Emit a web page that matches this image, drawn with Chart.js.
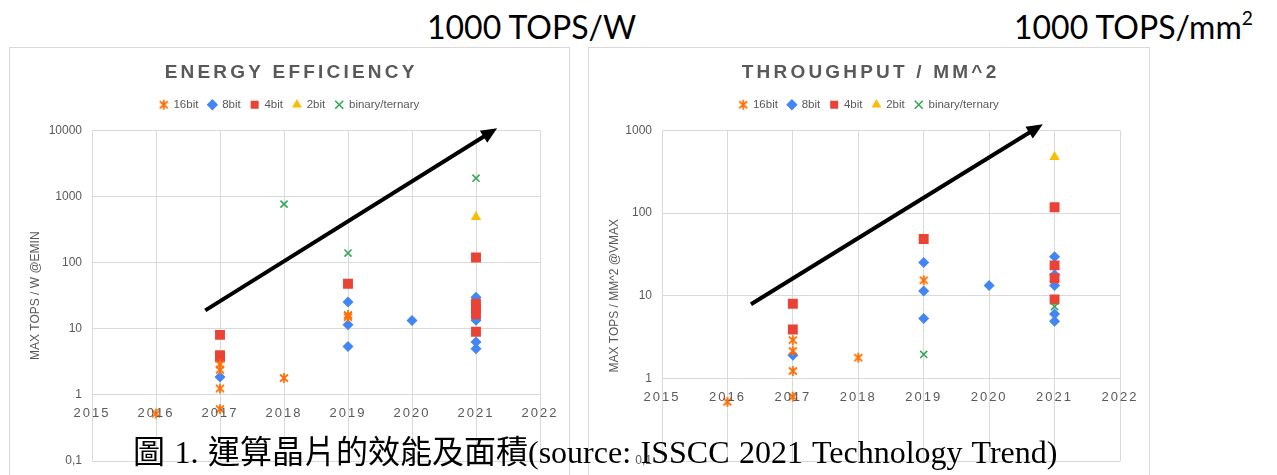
<!DOCTYPE html>
<html>
<head>
<meta charset="utf-8">
<script src="https://cdn.jsdelivr.net/npm/chart.js@4.4.1/dist/chart.umd.min.js"></script>
<style>
  html, body { margin: 0; padding: 0; background: #fff; }
  body { position: relative; width: 1277px; height: 475px; overflow: hidden; }
  .frame { position: absolute; top: 47px; height: 440px; border: 1px solid #d9d9d9; box-sizing: border-box; }
  #left-frame { left: 9px; width: 561px; }
  #right-frame { left: 588px; width: 562px; }
  .frame canvas { display: block; }
  .note { position: absolute; top: 7px; font-family: Lato, 'Open Sans', sans-serif; font-size: 32px; color: #000; white-space: nowrap; }
  .note sup { font-size: 60%; vertical-align: 0; position: relative; top: -0.75em; }
  #caption { position: absolute; left: 133px; top: 436px; line-height: 1; font-family: 'Liberation Serif', 'Noto Sans CJK TC', serif; font-size: 32px; word-spacing: 1.5px; color: #000; white-space: nowrap; }
</style>
</head>
<body>
<div class="note" style="left:427px">1000 TOPS/W</div>
<div class="note" style="left:1014px">1000 TOPS/mm<sup>2</sup></div>
<div class="frame" id="left-frame"><canvas id="eff-chart" width="559" height="438"></canvas></div>
<div class="frame" id="right-frame"><canvas id="tput-chart" width="560" height="438"></canvas></div>
<div id="caption">圖 1. 運算晶片的效能及面積(source: ISSCC 2021 Technology Trend)</div>

<script>
const yearMin = 2015;
const yearMax = 2022;
const seriesNames = ['16bit', '8bit', '4bit', '2bit', 'binary/ternary'];

// ENERGY EFFICIENCY, MAX TOPS / W @EMIN, points are [year, value]
const eff16bit = [[2016, 0.52], [2017, 0.61], [2017, 1.25], [2017, 2.4], [2017, 2.9], [2018, 1.8], [2019, 15], [2019, 16.2]];
const eff8bit = [[2017, 1.87], [2019, 5.4], [2019, 11.5], [2019, 25.4], [2020, 13.3], [2021, 5.0], [2021, 6.3], [2021, 13.5], [2021, 30]];
const eff4bit = [[2017, 3.7], [2017, 4.0], [2017, 8.1], [2019, 48], [2021, 9], [2021, 16.5], [2021, 20], [2021, 24], [2021, 120]];
const eff2bit = [[2021, 490]];
const effBinary = [[2018, 770], [2019, 140], [2021, 1900]];
const effYTicks = [0.1, 1, 10, 100, 1000, 10000];
const effArrow = [[2016.77, 19], [2021.33, 10800]];

// THROUGHPUT / MM^2, MAX TOPS / MM^2 @VMAX
const tput16bit = [[2016, 0.52], [2017, 0.6], [2017, 1.23], [2017, 2.15], [2017, 2.9], [2018, 1.78], [2019, 15.4]];
const tput8bit = [[2017, 1.9], [2019, 5.3], [2019, 11.4], [2019, 25.2], [2020, 13.3], [2021, 4.9], [2021, 6.0], [2021, 13.3], [2021, 18], [2021, 29.7]];
const tput4bit = [[2017, 3.9], [2017, 8.0], [2019, 48.6], [2021, 9], [2021, 16.3], [2021, 23.3], [2021, 118]];
const tput2bit = [[2021, 478]];
const tputBinary = [[2019, 1.95], [2021, 7.4]];
const tputYTicks = [0.1, 1, 10, 100, 1000];
const tputArrow = [[2016.36, 7.9], [2020.82, 1190]];

const seriesColors = ['#ff6d01', '#4285f4', '#ea4335', '#fbbc04', '#34a853'];
const gridColor = '#d9d9d9';
const textColor = '#595959';
const fontFamily = "'Liberation Sans', Arial, sans-serif";

// asterisk marker for 16bit
function starMarker(color) {
    const c = document.createElement('canvas');
    c.width = 12;
    c.height = 12;
    const g = c.getContext('2d');
    g.strokeStyle = color;
    g.lineWidth = 1.7;
    g.beginPath();
    g.moveTo(2, 2.5); g.lineTo(10, 9.5);
    g.moveTo(10, 2.5); g.lineTo(2, 9.5);
    g.moveTo(6, 1); g.lineTo(6, 11);
    g.stroke();
    return c;
}

const pointStyles = [starMarker(seriesColors[0]), 'rectRot', 'rect', 'triangle', 'crossRot'];
const pointRadii = [6, 5.5, 7, 6, 5];
const drawOrder = [0, 4, 3, 2, 1]; // lower = drawn on top

function makeDatasets(series) {
    return series.map((pts, i) => ({
        label: seriesNames[i],
        data: pts.map(p => ({ x: p[0], y: p[1] })),
        pointStyle: pointStyles[i],
        pointRadius: pointRadii[i],
        pointHoverRadius: pointRadii[i],
        backgroundColor: seriesColors[i],
        borderColor: seriesColors[i],
        borderWidth: i === 4 ? 1.6 : 0,
        order: drawOrder[i],
        showLine: false
    }));
}

// spaced title, trend arrow, spaced year labels
const decorPlugin = {
    id: 'decor',
    beforeInit(chart) {
        const fit = chart.legend.fit;
        chart.legend.fit = function () {
            fit.call(this);
            this.height += 10;
        };
    },
    afterLayout(chart) {
        // center the legend on the whole canvas, not on the padded box
        const legend = chart.legend;
        legend.left = 0;
        legend.right = chart.width;
        legend.width = chart.width;
    },
    beforeDraw(chart) {
        chart.ctx.letterSpacing = '0px';
    },
    afterDatasetsDraw(chart, args, opts) {
        const ctx = chart.ctx;
        const xs = chart.scales.x, ys = chart.scales.y;
        const a = opts.arrow;
        const x1 = xs.getPixelForValue(a[0][0]), y1 = ys.getPixelForValue(a[0][1]);
        const x2 = xs.getPixelForValue(a[1][0]), y2 = ys.getPixelForValue(a[1][1]);
        const ang = Math.atan2(y2 - y1, x2 - x1);
        const head = 16, half = 7;
        ctx.save();
        ctx.strokeStyle = '#000';
        ctx.fillStyle = '#000';
        ctx.lineWidth = 4;
        ctx.beginPath();
        ctx.moveTo(x1, y1);
        ctx.lineTo(x2 - Math.cos(ang) * head * 0.8, y2 - Math.sin(ang) * head * 0.8);
        ctx.stroke();
        ctx.beginPath();
        ctx.moveTo(x2, y2);
        ctx.lineTo(x2 - Math.cos(ang) * head - Math.sin(ang) * half, y2 - Math.sin(ang) * head + Math.cos(ang) * half);
        ctx.lineTo(x2 - Math.cos(ang) * head + Math.sin(ang) * half, y2 - Math.sin(ang) * head - Math.cos(ang) * half);
        ctx.closePath();
        ctx.fill();
        ctx.restore();
        ctx.letterSpacing = '2px'; // year labels are drawn after this (ticks.z = 1)
    },
    afterDraw(chart, args, opts) {
        const ctx = chart.ctx;
        ctx.save();
        ctx.letterSpacing = '3.2px';
        ctx.font = 'bold 19px ' + fontFamily;
        ctx.fillStyle = textColor;
        ctx.textAlign = 'center';
        ctx.textBaseline = 'middle';
        ctx.fillText(opts.title, chart.width / 2 + 1.6, 25);
        ctx.restore();
        ctx.letterSpacing = '0px';
    }
};

function makeChart(canvasId, series, yTicks, yTitle, title, arrow, yWidth) {
    const ctx = document.getElementById(canvasId).getContext('2d');
    return new Chart(ctx, {
        type: 'scatter',
        data: { datasets: makeDatasets(series) },
        options: {
            responsive: false,
            animation: false,
            layout: { padding: { top: 41, right: 29, bottom: 25, left: 0 } },
            plugins: {
                legend: {
                    position: 'top',
                    labels: {
                        usePointStyle: true,
                        boxWidth: 8,
                        boxHeight: 8,
                        padding: 10,
                        color: textColor,
                        font: { family: fontFamily, size: 11.5 },
                        sort: (a, b) => a.datasetIndex - b.datasetIndex
                    }
                },
                tooltip: { enabled: false },
                decor: { title: title, arrow: arrow }
            },
            scales: {
                x: {
                    type: 'linear',
                    position: { y: 1 },
                    min: yearMin,
                    max: yearMax,
                    ticks: {
                        stepSize: 1,
                        z: 1,
                        color: textColor,
                        padding: 11,
                        font: { family: fontFamily, size: 13 },
                        callback: v => String(v)
                    },
                    grid: { color: gridColor, drawTicks: false },
                    border: { display: false }
                },
                y: {
                    type: 'logarithmic',
                    min: yTicks[0],
                    max: yTicks[yTicks.length - 1],
                    afterBuildTicks: scale => {
                        scale.ticks = yTicks.map(v => ({ value: v }));
                    },
                    afterFit: scale => {
                        scale.width = yWidth;
                    },
                    ticks: {
                        color: textColor,
                        padding: 10,
                        font: { family: fontFamily, size: 12 },
                        callback: v => String(v).replace('.', ',')
                    },
                    grid: { color: gridColor, drawTicks: false },
                    border: { display: false },
                    title: {
                        display: true,
                        text: yTitle,
                        color: textColor,
                        font: { family: fontFamily, size: 12 },
                        padding: { top: 18, bottom: 0 }
                    }
                }
            }
        },
        plugins: [decorPlugin]
    });
}

makeChart('eff-chart', [eff16bit, eff8bit, eff4bit, eff2bit, effBinary], effYTicks,
    'MAX TOPS / W @EMIN', 'ENERGY EFFICIENCY', effArrow, 82);
makeChart('tput-chart', [tput16bit, tput8bit, tput4bit, tput2bit, tputBinary], tputYTicks,
    'MAX TOPS / MM^2 @VMAX', 'THROUGHPUT / MM^2', tputArrow, 73);
</script>
</body>
</html>
